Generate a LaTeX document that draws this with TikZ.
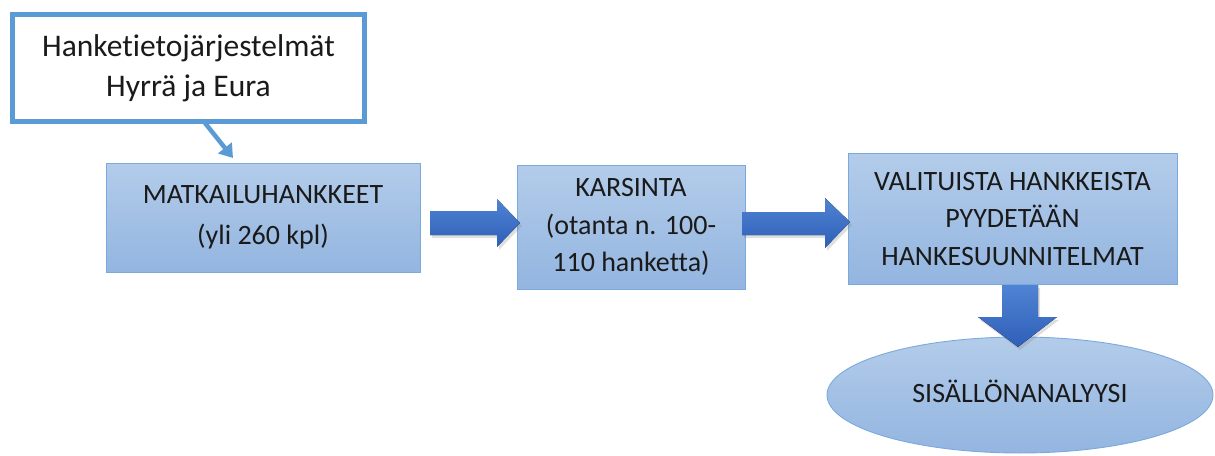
\documentclass[tikz,border=0pt]{standalone}
\usepackage{fontspec}
\setmainfont{Carlito}[RawFeature=-liga]
\usetikzlibrary{arrows.meta,shadows,shapes.geometric}
\definecolor{boxtop}{HTML}{B3CCEA}
\definecolor{boxbot}{HTML}{93B5E0}
\definecolor{boxline}{HTML}{7AAADD}
\definecolor{callline}{HTML}{5B9BD5}
\definecolor{arrtop}{HTML}{4F83D3}
\definecolor{arrbot}{HTML}{2F5FB8}
\definecolor{txt}{HTML}{1A1A1A}
\tikzset{
  blockbox/.style={draw=boxline, line width=0.9pt, top color=boxtop, bottom color=boxbot, inner sep=0pt, align=center, text=txt, font=\fontsize{28}{37.5}\selectfont},
  blockarrow/.style={top color=arrtop, bottom color=arrbot, draw=none, drop shadow={shadow xshift=2pt, shadow yshift=-3pt, opacity=0.25}},
  callout/.style={draw=callline, line width=5pt, fill=white, inner sep=0pt, align=center, text=txt, font=\fontsize{31.5}{40}\selectfont}
}
\begin{document}
\begin{tikzpicture}[x=1pt,y=-1pt]
\useasboundingbox (0,0) rectangle (1215,455);
% callout box
\node[callout, minimum width=352pt, minimum height=107pt] (src) at (188.5,68) {Hanketietojärjestelmät\\Hyrrä ja Eura};
% boxes
\node[blockbox, minimum width=314pt, minimum height=109pt] (b1) at (263,217.5) {MATKAILUHANKKEET\\[3pt](yli 260 kpl)};
\node[blockbox, minimum width=228pt, minimum height=124pt] (b2) at (631,227) {KARSINTA\\(otanta n. 100-\\110 hanketta)};
\node[blockbox, minimum width=329pt, minimum height=131pt] (b3) at (1012.5,219) {VALITUISTA HANKKEISTA\\PYYDETÄÄN\\HANKESUUNNITELMAT};
\node[blockbox, ellipse, minimum width=386pt, minimum height=116pt] (b4) at (1020,395) {\raisebox{7pt}{SISÄLLÖNANALYYSI}};
% thin arrow from callout
\coordinate (srcfoot) at (205,123);
\draw[callline, line width=4.5pt, -{Triangle[width=17pt,length=13pt]}] (srcfoot) -- (233,158);
% block arrows
\fill[blockarrow] (430,211) -- (497,211) -- (497,199) -- (520,223) -- (497,247) -- (497,235) -- (430,235) -- cycle;
\fill[blockarrow] (742,212) -- (825,212) -- (825,198) -- (850,222) -- (825,248) -- (825,235) -- (742,235) -- cycle;
\fill[blockarrow] (1002,285) -- (1038,285) -- (1038,317) -- (1057,317) -- (1018,347) -- (978,317) -- (1002,317) -- cycle;
\end{tikzpicture}
\end{document}
